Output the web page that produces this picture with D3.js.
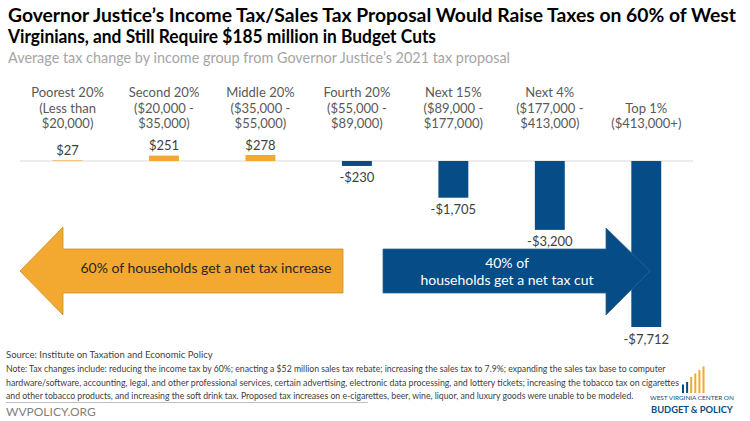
<!DOCTYPE html>
<html><head><meta charset="utf-8">
<script src="https://cdn.jsdelivr.net/npm/d3@7"></script>
<style>
html,body{margin:0;padding:0;background:#fff;}
svg{display:block;font-family:Lato,"Open Sans",sans-serif;}
</style></head>
<body>
<svg id="chart" width="750" height="421"></svg>
<script>
// ---------- data ----------
const categories = ["Poorest 20%","Second 20%","Middle 20%","Fourth 20%","Next 15%","Next 4%","Top 1%"];
const categoryRanges = [["(Less than","$20,000)"],["($20,000 -","$35,000)"],["($35,000 -","$55,000)"],["($55,000 -","$89,000)"],["($89,000 -","$177,000)"],["($177,000 -","$413,000)"],["($413,000+)"]];
const taxChange = [27, 251, 278, -230, -1705, -3200, -7712];
const valueLabels = ["$27","$251","$278","-$230","-$1,705","-$3,200","-$7,712"];
const titleLines = ["Governor Justice\u2019s Income Tax/Sales Tax Proposal Would Raise Taxes on 60% of West","Virginians, and Still Require $185 million in Budget Cuts"];
const subtitle = "Average tax change by income group from Governor Justice\u2019s 2021 tax proposal";
const increaseText = "60% of households get a net tax increase";
const cutText = ["40% of","households get a net tax cut"];
const sourceText = "Source: Institute on Taxation and Economic Policy";
const noteLines = ["Note: Tax changes include: reducing the income tax by 60%; enacting a $52 million sales tax rebate; increasing the sales tax to 7.9%; expanding the sales tax base to computer",
"hardware/software,  accounting, legal, and other professional services, certain advertising, electronic data processing, and lottery tickets; increasing the tobacco tax on cigarettes",
"and other tobacco products,  and increasing the soft drink tax. Proposed tax increases on e-cigarettes, beer, wine, liquor, and luxury goods were unable to be modeled."];
const siteText = "WVPOLICY.ORG";
const logoLines = ["WEST VIRGINIA CENTER ON","BUDGET & POLICY"];

// ---------- setup ----------
const svg = d3.select("#chart");
const ORANGE = "#f3a830", BLUE = "#064c86";

// stretch/squeeze a text to a given width (glyph spacing)
function fit(sel, w){
  sel.attr("textLength", w).attr("lengthAdjust","spacingAndGlyphs");
}
// shrink the font so the natural width equals w
function fitSize(sel, w){
  const fs = +sel.attr("font-size");
  const L = sel.node().getComputedTextLength();
  if (L > 0) sel.attr("font-size", (fs * w / L).toFixed(2));
}

// title
titleLines.forEach((t,i)=>{
  const el = svg.append("text").attr("x",8).attr("y",22+i*21)
    .attr("font-size",19).attr("font-weight","bold").attr("fill","#000").text(t);
  fit(el, i===0 ? 728 : 428);
});
fit(svg.append("text").attr("x",8).attr("y",63).attr("font-size",15).attr("fill","#a5a5a5").text(subtitle), 502);

// scales
const x = d3.scaleBand().domain(categories).range([19.3, 694.5]).paddingInner(0.69).paddingOuter(0.345);
const y = d3.scaleLinear().domain([d3.min(taxChange), 0]).range([327, 161]);

// baseline
svg.append("line").attr("x1",20).attr("x2",693).attr("y1",y(0)).attr("y2",y(0))
  .attr("stroke","#d9d9d9").attr("stroke-width",1);

// category labels (bottom-aligned to 3 lines)
categories.forEach((c,i)=>{
  const lines = [c].concat(categoryRanges[i]);
  const start = 3 - lines.length;
  const cx = x(c) + x.bandwidth()/2;
  lines.forEach((l,j)=>{
    svg.append("text").attr("x",cx).attr("y",97+(start+j)*15.5)
      .attr("text-anchor","middle").attr("font-size",13).attr("fill","#595959").text(l);
  });
});

// bars
svg.selectAll("rect.bar").data(taxChange).join("rect").attr("class","bar")
  .attr("x",(d,i)=>x(categories[i]))
  .attr("width",x.bandwidth())
  .attr("y",d=>y(Math.max(0,d)))
  .attr("height",d=>Math.abs(y(d)-y(0)))
  .attr("fill",d=>d>=0?ORANGE:BLUE);

// value labels
svg.selectAll("text.val").data(taxChange).join("text").attr("class","val")
  .attr("x",(d,i)=>x(categories[i])+x.bandwidth()/2)
  .attr("y",d=> d>=0 ? y(d)-10+4.5 : y(d)+12+4.5)
  .attr("text-anchor","middle").attr("font-size",13).attr("fill","#404040")
  .text((d,i)=>valueLabels[i]);

// orange arrow (left)
const oa = [[20,271],[63,227],[63,249],[343,249],[343,293],[63,293],[63,315]];
svg.append("path").attr("d",d3.line()(oa)+"Z").attr("fill",ORANGE).attr("stroke","#c98f2c").attr("stroke-width",0.8);
svg.append("text").attr("x",206).attr("y",273).attr("text-anchor","middle")
  .attr("font-size",14).attr("fill","#262626").text(increaseText);

// blue arrow (right)
const ba = [[383,249],[606,249],[606,228],[650,271],[606,315],[606,293],[383,293]];
svg.append("path").attr("d",d3.line()(ba)+"Z").attr("fill",BLUE).attr("stroke","#2f6496").attr("stroke-width",0.8);
cutText.forEach((t,i)=>{
  svg.append("text").attr("x",507).attr("y",268+i*17).attr("text-anchor","middle")
    .attr("font-size",14).attr("fill","#fff").text(t);
});

// footer
svg.append("text").attr("x",6).attr("y",358).attr("font-size",9.5).attr("fill","#404040").text(sourceText);
noteLines.forEach((t,i)=>{
  fitSize(svg.append("text").attr("x",6).attr("y",372+i*13.5).attr("font-size",9.5).attr("fill","#404040").text(t), [660,674,628][i]);
});
svg.append("line").attr("x1",6).attr("x2",368).attr("y1",402.5).attr("y2",402.5).attr("stroke","#bfbfbf").attr("stroke-width",1);
svg.append("text").attr("x",6).attr("y",416).attr("font-size",12).attr("fill","#7f7f7f").text(siteText);

// logo
const logo = svg.append("g");
const lb = [8.5,11,16,19.5,23,26.5];
lb.forEach((h,i)=>{
  logo.append("rect").attr("x",682+i*4.1).attr("y",393-h).attr("width",2).attr("height",h)
    .attr("fill", i<2 ? BLUE : ORANGE);
});
fitSize(logo.append("text").attr("x",650).attr("y",400).attr("font-size",5.5).attr("fill",BLUE).text(logoLines[0]), 84);
fitSize(logo.append("text").attr("x",651).attr("y",413).attr("font-size",9.5).attr("font-weight","bold").attr("fill",BLUE).text(logoLines[1]), 82);
</script>
</body></html>
